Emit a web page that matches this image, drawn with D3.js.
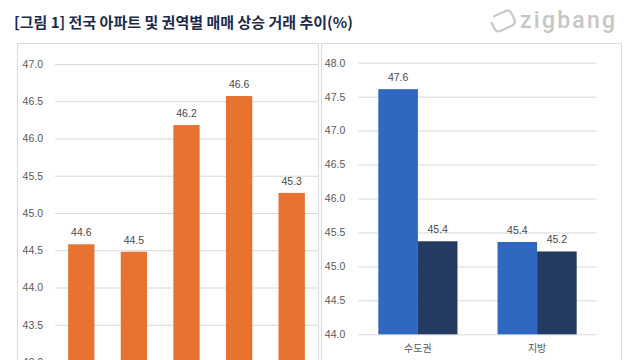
<!DOCTYPE html>
<html>
<head>
<meta charset="utf-8">
<script src="https://cdn.jsdelivr.net/npm/d3@7"></script>
<style>
  html, body { margin: 0; padding: 0; background: #ffffff; }
  svg { display: block; }
</style>
</head>
<body>
<svg id="chart" width="640" height="360"></svg>
<script>
// ---- data ----
const titleText = "[그림 1] 전국 아파트 및 권역별 매매 상승 거래 추이(%)";
const logoText = "zigbang";

const leftCategories = ["2019", "2020", "2021", "2022", "2023"];
const leftValues = [44.58, 44.48, 46.18, 46.57, 45.27];
const leftTicks = [43.0, 43.5, 44.0, 44.5, 45.0, 45.5, 46.0, 46.5, 47.0];

const rightCategories = ["수도권", "지방"];
const rightSeries = ["시리즈1", "시리즈2"];
const rightSeries1 = [47.61, 45.36];
const rightSeries2 = [45.37, 45.22];
const rightTicks = [44.0, 44.5, 45.0, 45.5, 46.0, 46.5, 47.0, 47.5, 48.0];

// ---- style ----
const numFont = "'Liberation Sans', Arial, sans-serif";
const korFont = "'Noto Sans CJK KR', 'Noto Sans', sans-serif";
const gridColor = "#d9d9d9";
const tickColor = "#595959";
const labelColor = "#4a4a4a";
const orange = "#e8722f";
const seriesColors = ["#2f68c0", "#243b61"];

const svg = d3.select("#chart");

// title
svg.append("text")
  .attr("x", 14).attr("y", 28)
  .attr("font-family", korFont)
  .attr("font-weight", 700)
  .attr("font-size", 15)
  .attr("fill", "#1d2b4b")
  .text(titleText);

// logo
const logo = svg.append("g").attr("transform", "translate(503,21) rotate(-25)");
logo.append("path")
  .attr("d", "M -6 -8 L 6 -8 Q 11 -8 11 -3 L 11 3 Q 11 8 6 8 L -6 8 Q -11 8 -11 3 L -11 -3")
  .attr("fill", "none").attr("stroke", "#c9c9c9").attr("stroke-width", 2.2)
  .attr("stroke-linecap", "round");
svg.append("text")
  .attr("x", 520).attr("y", 28)
  .attr("font-family", "Roboto, 'Open Sans', sans-serif")
  .attr("font-weight", 500)
  .attr("font-size", 23)
  .attr("textLength", 95)
  .attr("fill", "#c6c6c6")
  .text(logoText);

// panel boxes
svg.append("rect").attr("x", 17.5).attr("y", 43.5).attr("width", 301).attr("height", 340)
  .attr("fill", "none").attr("stroke", "#dcdcdc");
svg.append("rect").attr("x", 321.5).attr("y", 43.5).attr("width", 300).attr("height", 340)
  .attr("fill", "none").attr("stroke", "#dcdcdc");

// ---- left chart ----
const yL = d3.scaleLinear().domain([43, 47]).range([362, 64]);
const xL = d3.scaleBand().domain(leftCategories).range([55, 318])
  .paddingInner(0.5).paddingOuter(0.25);

const gyL = svg.append("g").attr("transform", "translate(55,0)")
  .call(d3.axisLeft(yL).tickValues(leftTicks).tickFormat(d3.format(".1f"))
    .tickSize(-(318 - 55)).tickPadding(12));
gyL.select(".domain").remove();
gyL.selectAll(".tick line").attr("stroke", gridColor);
gyL.selectAll(".tick text").attr("fill", tickColor)
  .attr("font-family", numFont).attr("font-size", 10.5);

svg.append("g").selectAll("rect").data(leftValues).join("rect")
  .attr("x", (d, i) => xL(leftCategories[i]))
  .attr("y", d => yL(d))
  .attr("width", xL.bandwidth())
  .attr("height", d => yL(43) - yL(d))
  .attr("fill", orange);

svg.append("g").selectAll("text").data(leftValues).join("text")
  .attr("x", (d, i) => xL(leftCategories[i]) + xL.bandwidth() / 2)
  .attr("y", d => yL(d) - 8)
  .attr("text-anchor", "middle")
  .attr("font-family", numFont).attr("font-size", 10.5)
  .attr("fill", labelColor)
  .text(d => d3.format(".1f")(d));

// ---- right chart ----
const yR = d3.scaleLinear().domain([44, 48]).range([334.3, 62.7]);
const xR = d3.scaleBand().domain(rightCategories).range([358.3, 596.7])
  .paddingInner(0.336).paddingOuter(0.168);
const xSub = d3.scaleBand().domain(rightSeries).range([0, xR.bandwidth()]).padding(0);

const gyR = svg.append("g").attr("transform", "translate(358.3,0)")
  .call(d3.axisLeft(yR).tickValues(rightTicks).tickFormat(d3.format(".1f"))
    .tickSize(-(596.7 - 358.3)).tickPadding(13));
gyR.select(".domain").remove();
gyR.selectAll(".tick line").attr("stroke", gridColor);
gyR.selectAll(".tick text").attr("fill", tickColor)
  .attr("font-family", numFont).attr("font-size", 10.5);

const rightRows = rightCategories.map((c, i) => ({
  cat: c,
  vals: [
    { s: rightSeries[0], v: rightSeries1[i], c: seriesColors[0] },
    { s: rightSeries[1], v: rightSeries2[i], c: seriesColors[1] }
  ]
}));

const groups = svg.append("g").selectAll("g").data(rightRows).join("g")
  .attr("transform", d => `translate(${xR(d.cat)},0)`);
groups.selectAll("rect").data(d => d.vals).join("rect")
  .attr("x", d => xSub(d.s))
  .attr("y", d => yR(d.v))
  .attr("width", xSub.bandwidth())
  .attr("height", d => yR(44) - yR(d.v))
  .attr("fill", d => d.c);
groups.selectAll("text").data(d => d.vals).join("text")
  .attr("x", d => xSub(d.s) + xSub.bandwidth() / 2)
  .attr("y", d => yR(d.v) - 8)
  .attr("text-anchor", "middle")
  .attr("font-family", numFont).attr("font-size", 10.5)
  .attr("fill", labelColor)
  .text(d => d3.format(".1f")(d.v));

const gxR = svg.append("g").attr("transform", `translate(0,${yR(44)})`)
  .call(d3.axisBottom(xR).tickSize(0).tickPadding(11));
gxR.select(".domain").remove();
gxR.selectAll(".tick text").attr("fill", tickColor)
  .attr("font-family", korFont).attr("font-size", 10);
</script>
</body>
</html>
